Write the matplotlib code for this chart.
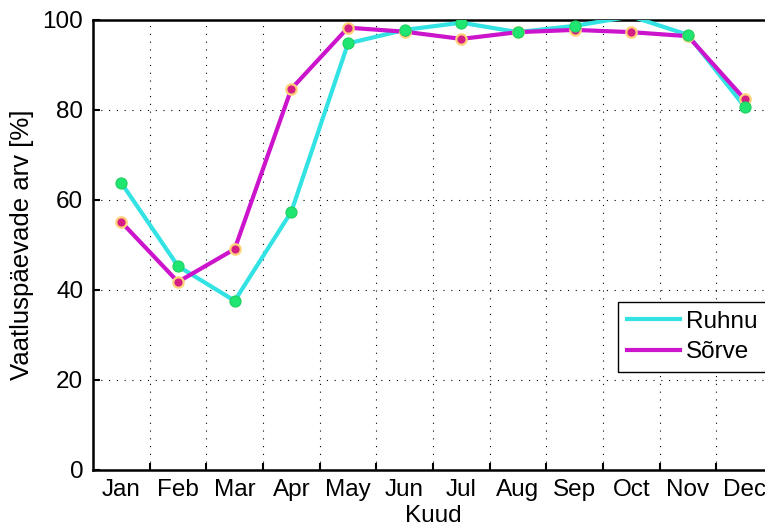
import matplotlib
matplotlib.use('Agg')
import matplotlib.pyplot as plt
import numpy as np

plt.rcParams['font.family'] = ['Liberation Sans', 'DejaVu Sans']

months = ['Jan', 'Feb', 'Mar', 'Apr', 'May', 'Jun',
          'Jul', 'Aug', 'Sep', 'Oct', 'Nov', 'Dec']
ruhnu = [63.8, 45.3, 37.6, 57.4, 94.8, 97.8, 99.4, 97.3, 98.7, 100.8, 96.7, 80.7]
sorve = [55.1, 41.8, 49.1, 84.7, 98.3, 97.4, 95.8, 97.3, 97.8, 97.3, 96.4, 82.4]

x = np.arange(1, len(months) + 1)
ruhnu = np.array(ruhnu)
sorve = np.array(sorve)

fig = plt.figure(figsize=(7.65, 5.3), dpi=100)
# axes run a little past the right edge of the figure
ax = fig.add_axes([93 / 765, 1 - 470 / 530, 680 / 765, 450 / 530])

ax.plot(x, ruhnu, color='#33e3e3', lw=3, label='Ruhnu', zorder=3)
ax.plot(x, sorve, color='#cc14cc', lw=3, label='Sõrve', zorder=3)

# markers only for points that fall inside the y range
inr = sorve <= 100
ax.plot(x[inr], sorve[inr], ls='none', marker='o', ms=7.5,
        mfc='#d41e86', mec='#ffd27a', mew=1.6, zorder=4)
inr = ruhnu <= 100
ax.plot(x[inr], ruhnu[inr], ls='none', marker='o', ms=8,
        mfc='#1ee670', mec='#1fcf60', mew=0.8, zorder=5)

ax.set_xlim(0.5, 12.5)
ax.set_ylim(0, 100)

ax.set_xticks(np.arange(1.5, 12, 1))
ax.set_xticklabels([])
ax.set_xticks(x, minor=True)
ax.set_xticklabels(months, minor=True)
ax.set_yticks([0, 20, 40, 60, 80, 100])

ax.tick_params(axis='x', which='major', direction='in', length=5, width=1.5)
ax.tick_params(axis='x', which='minor', length=0, pad=6.5, labelsize=17.5)
ax.tick_params(axis='y', direction='in', length=5, width=1.5, pad=7,
               labelsize=17.5)

ax.grid(True, which='major', color='black', lw=0.8, ls=(0, (1, 6)))

for s in ax.spines.values():
    s.set_linewidth(1.8)

ax.set_xlabel('Kuud', fontsize=17.5, labelpad=3)
ax.set_ylabel('Vaatluspäevade arv [%]', fontsize=18.5, labelpad=6)

leg = ax.legend(loc='upper left', bbox_to_anchor=(618 / 765, 1 - 302 / 530),
                bbox_transform=fig.transFigure, borderaxespad=0,
                fontsize=17.5, fancybox=False, framealpha=1, edgecolor='black',
                handlelength=2.2, handletextpad=0.25, labelspacing=0.35,
                borderpad=0.35)
leg.get_frame().set_linewidth(1.0)

fig.savefig('out.png', dpi=100)
